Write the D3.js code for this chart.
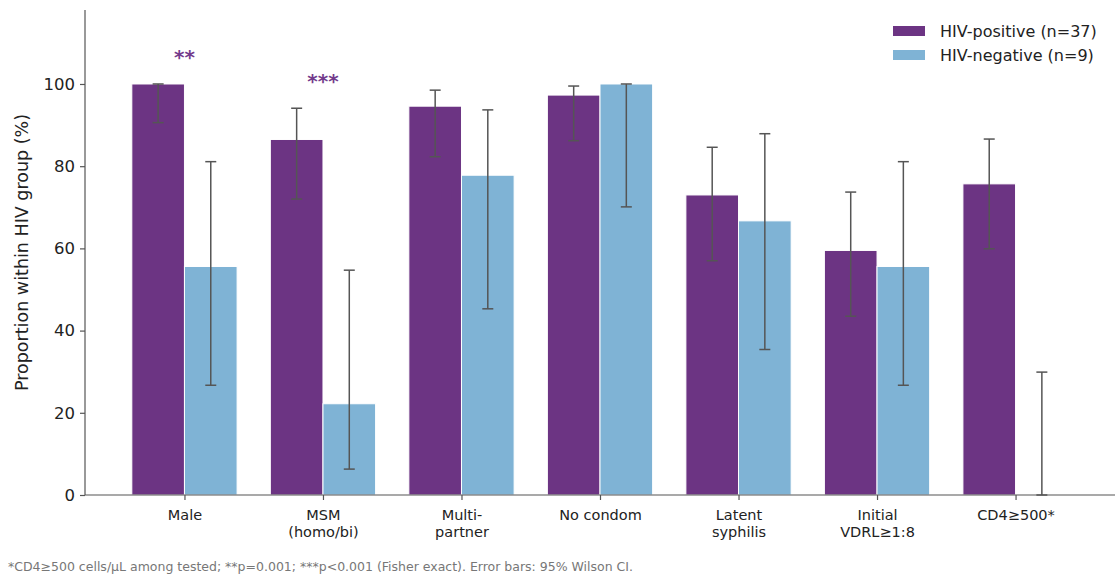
<!DOCTYPE html>
<html>
<head>
<meta charset="utf-8">
<script src="https://cdn.jsdelivr.net/npm/d3@7"></script>
<style>
  html, body { margin: 0; padding: 0; background: #fff; }
  svg { display: block; font-family: "DejaVu Sans", sans-serif; }
</style>
</head>
<body>
<svg id="chart" width="1117" height="578"></svg>
<script>
// Categories (multi-line labels split on \n)
const categories = ["Male", "MSM\n(homo/bi)", "Multi-\npartner", "No condom", "Latent\nsyphilis", "Initial\nVDRL≥1:8", "CD4≥500*"];

// Proportions (%) within each HIV group
const hivPositive = [100.0, 86.5, 94.6, 97.3, 73.0, 59.5, 75.7];
const hivNegative = [55.6, 22.2, 77.8, 100.0, 66.7, 55.6, 0.0];

// 95% Wilson confidence limits (%)
const hivPositiveLow  = [90.6, 72.0, 82.3, 86.2, 57.0, 43.5, 59.9];
const hivPositiveHigh = [100.0, 94.1, 98.5, 99.5, 84.6, 73.7, 86.6];
const hivNegativeLow  = [26.7, 6.3, 45.3, 70.1, 35.4, 26.7, 0.0];
const hivNegativeHigh = [81.1, 54.7, 93.7, 100.0, 87.9, 81.1, 29.9];

// Significance markers (index -> label)
const significance = [{ index: 0, label: "**" }, { index: 1, label: "***" }];

const yTicks = [0, 20, 40, 60, 80, 100];
const seriesNames = ["HIV-positive (n=37)", "HIV-negative (n=9)"];
const footnote = "*CD4≥500 cells/μL among tested; **p=0.001; ***p<0.001 (Fisher exact). Error bars: 95% Wilson CI.";

const colors = ["#6c3483", "#7fb3d5"];
const series = [
  { name: seriesNames[0], values: hivPositive, low: hivPositiveLow, high: hivPositiveHigh, color: colors[0], side: -1 },
  { name: seriesNames[1], values: hivNegative, low: hivNegativeLow, high: hivNegativeHigh, color: colors[1], side: 1 }
];

const svg = d3.select("#chart");
const plot = { left: 85, right: 1115, top: 10, bottom: 495 };

const x = d3.scalePoint().domain(categories).range([plot.left, plot.right]).padding(0.718);
const y = d3.scaleLinear().domain([0, 118]).range([plot.bottom, plot.top]);
const barW = x.step() * 0.38;

// Bars
series.forEach(s => {
  svg.append("g").selectAll("rect")
    .data(categories.map((c, i) => ({ c, v: s.values[i] })))
    .join("rect")
    .attr("x", d => x(d.c) + (s.side < 0 ? -barW : 0))
    .attr("y", d => y(d.v))
    .attr("width", barW)
    .attr("height", d => y(0) - y(d.v))
    .attr("fill", s.color)
    .attr("stroke", "#ffffff")
    .attr("stroke-width", 1);
});

// Error bars
const capHalf = 5.5;
series.forEach(s => {
  const g = svg.append("g").attr("stroke", "#555555").attr("stroke-width", 1.5).attr("fill", "none");
  categories.forEach((c, i) => {
    const cx = x(c) + s.side * barW / 2;
    g.append("line").attr("x1", cx).attr("x2", cx).attr("y1", y(s.low[i])).attr("y2", y(s.high[i]));
    g.append("line").attr("x1", cx - capHalf).attr("x2", cx + capHalf).attr("y1", y(s.low[i])).attr("y2", y(s.low[i]));
    g.append("line").attr("x1", cx - capHalf).attr("x2", cx + capHalf).attr("y1", y(s.high[i])).attr("y2", y(s.high[i]));
  });
});

// Significance stars above each comparison
significance.forEach(m => {
  const c = categories[m.index];
  const top = Math.max(hivPositiveHigh[m.index], hivNegativeHigh[m.index]);
  svg.append("text")
    .attr("x", x(c))
    .attr("y", y(top) - 20)
    .attr("text-anchor", "middle")
    .attr("font-size", 20)
    .attr("font-weight", "bold")
    .attr("fill", "#733b8c")
    .text(m.label);
});

// Y axis
const yAxis = svg.append("g")
  .attr("transform", `translate(${plot.left},0)`)
  .call(d3.axisLeft(y).tickValues(yTicks).tickSize(5).tickPadding(5).tickSizeOuter(0));
yAxis.select(".domain").attr("stroke", "#555555").attr("stroke-width", 1.2)
  .attr("d", `M0,${plot.top}V${plot.bottom}`);
yAxis.selectAll(".tick line").attr("stroke", "#555555").attr("stroke-width", 1.2);
yAxis.selectAll(".tick text").attr("font-size", 16.5).attr("fill", "#222").attr("font-family", "DejaVu Sans");

// X axis
const xAxis = svg.append("g")
  .attr("transform", `translate(0,${plot.bottom})`)
  .call(d3.axisBottom(x).tickSize(5).tickSizeOuter(0).tickFormat(() => ""));
xAxis.select(".domain").attr("stroke", "#555555").attr("stroke-width", 1.2)
  .attr("d", `M${plot.left},0H${plot.right}`);
xAxis.selectAll(".tick line").attr("stroke", "#555555").attr("stroke-width", 1.2);
xAxis.selectAll(".tick").each(function(d) {
  const lines = d.split("\n");
  const t = d3.select(this).append("text")
    .attr("fill", "#222")
    .attr("font-size", 14.5)
    .attr("font-family", "DejaVu Sans")
    .attr("text-anchor", "middle");
  lines.forEach((ln, k) => {
    t.append("tspan").attr("x", 0).attr("y", 25 + k * 17).text(ln);
  });
});

// Y label
svg.append("text")
  .attr("transform", `translate(28,${(plot.top + plot.bottom) / 2}) rotate(-90)`)
  .attr("text-anchor", "middle")
  .attr("font-size", 17.5)
  .attr("fill", "#222")
  .text("Proportion within HIV group (%)");

// Legend
const legend = svg.append("g").attr("transform", "translate(893,26)");
series.forEach((s, i) => {
  const row = legend.append("g").attr("transform", `translate(0,${i * 24})`);
  row.append("rect").attr("width", 32).attr("height", 10).attr("fill", s.color);
  row.append("text").attr("x", 47).attr("y", 10.5).attr("font-size", 16).attr("fill", "#222").text(s.name);
});

// Footnote
svg.append("text")
  .attr("x", 8).attr("y", 571)
  .attr("font-size", 12.5)
  .attr("fill", "#777")
  .text(footnote);
</script>
</body>
</html>
